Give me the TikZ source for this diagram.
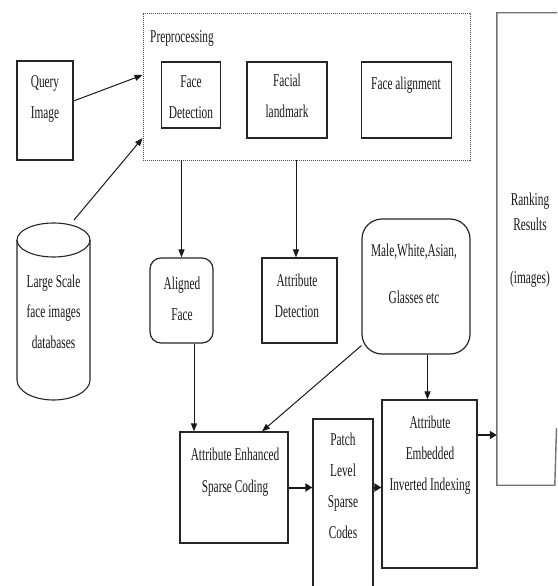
\documentclass[tikz,border=0pt]{standalone}
\usepackage{fontspec}
\setmainfont{Liberation Serif}[FakeStretch=0.63]
\usetikzlibrary{arrows.meta,calc}
\tikzset{
  box/.style={draw=black!85, line width=1.2pt, inner sep=0pt},
  rbox/.style={box, rounded corners=11pt},
  txt/.style={align=center, inner sep=0pt, anchor=base, font=\fontsize{18}{30.5}\selectfont, text=black!90},
  arr/.style={draw=black!90, line width=1pt, -{Triangle[length=8pt,width=6pt]}},
  thick arr/.style={draw=black!90, line width=2pt, -{Triangle[length=7pt,width=8pt]}},
}
\begin{document}
\begin{tikzpicture}[x=1pt,y=-1pt]
\useasboundingbox (0,0) rectangle (557,586);
\clip (0,0) rectangle (557,586);

% Preprocessing group (text anchors: baseline of the last line)
\node[draw=black!70, line width=0.8pt, dash pattern=on 1.2pt off 0.8pt, minimum width=327pt, minimum height=147pt] (pre) at (306.5,86.5) {};
\node[anchor=base west, inner sep=0pt, font=\fontsize{18}{30}\selectfont, text=black!90] (prel) at (150,43) {Preprocessing};
\node[box, minimum width=59pt, minimum height=66pt] (fd) at (191,95) {};
\node[txt] at (191,118) {Face\\Detection};
\node[box, minimum width=80pt, minimum height=76pt] (fl) at (287,100) {};
\node[txt] at (287,117) {Facial\\landmark};
\node[box, minimum width=90pt, minimum height=76pt] (fa) at (406.5,100) {};
\node[txt] at (406,89) {Face alignment};

% Query image
\node[box, minimum width=56pt, minimum height=99pt] (qi) at (45,110.5) {};
\node[txt] at (45,118) {Query\\Image};

% Database cylinder
\coordinate (dbtop) at (74,220);
\draw[draw=black!85, line width=1.1pt, fill=white] (17,240) -- (17,380) arc[start angle=180, end angle=360, x radius=36.5pt, y radius=20pt] -- (90,240);
\draw[draw=black!85, line width=1.1pt] (53.5,240) ellipse[x radius=36.5pt, y radius=17pt];
\node[txt] (db) at (53.5,348) {Large Scale\\face images\\databases};

% Aligned face, attribute detection, attributes
\node[rbox, minimum width=63pt, minimum height=85pt] (al) at (181.5,300.5) {};
\node[txt] at (182,320) {Aligned\\Face};
\node[box, minimum width=75pt, minimum height=85pt] (ad) at (299.5,300.5) {};
\node[txt] at (297,317) {Attribute\\Detection};
\node[draw=black!85, line width=1.2pt, rounded corners=20pt, minimum width=108pt, minimum height=135pt] (mw) at (416,286.5) {};
\node[txt, font=\fontsize{18}{47}\selectfont] at (414,303) {Male,White,Asian,\\Glasses etc};

% Lower row
\node[box, minimum width=108pt, minimum height=111pt] (en) at (234,487.5) {};
\node[txt, font=\fontsize{18}{32}\selectfont] at (235,492) {Attribute Enhanced\\Sparse Coding};
\node[box, minimum width=60pt, minimum height=200pt] (pa) at (343,519) {};
\node[txt, font=\fontsize{18}{30.7}\selectfont] at (343,538) {Patch\\Level\\Sparse\\Codes};
\node[box, minimum width=95pt, minimum height=168pt] (em) at (429.5,484) {};
\node[txt, font=\fontsize{18}{31}\selectfont] at (430,490) {Attribute\\Embedded\\Inverted Indexing};

% Ranking results (cropped at the right edge)
\node[minimum width=103pt, minimum height=472pt, inner sep=0pt] (rk) at (548.5,249) {};
\draw[draw=black!55, line width=1.4pt] (rk.north east) -- (rk.north west) -- (rk.south west) -- ([xshift=58pt]rk.south west) -- ([xshift=59.7pt,yshift=57pt]rk.south west);
\node[txt, font=\fontsize{18}{25}\selectfont] at (530,230) {Ranking\\Results};
\node[txt] at (530,283) {(images)};

% Connectors
\draw[arr] ([yshift=9.5pt]qi.east) -- ([yshift=11.5pt]pre.west);
\draw[arr] (dbtop) -- ([yshift=-51.5pt]pre.west);
\draw[arr] (pre.south -| al.north) -- (al.north);
\draw[arr] ([xshift=-3.5pt]pre.south -| ad.north) -- ([xshift=-3.5pt]ad.north);
\draw[arr] ([xshift=12.5pt]al.south) -- ([xshift=12.5pt]al.south |- en.north);
\draw[arr] ([yshift=9pt]mw.south west) -- ([xshift=28pt]en.north);
\draw[arr] ([xshift=11.5pt]mw.south) -- ([xshift=11.5pt]mw.south |- em.north);
\draw[thick arr] (en.east) -- (en.east -| pa.west);
\draw[thick arr] (en.east -| pa.east) -- (en.east -| em.west);
\draw[thick arr] ([yshift=49pt]em.east) -- ([yshift=49pt]em.east -| rk.west);
\end{tikzpicture}
\end{document}
